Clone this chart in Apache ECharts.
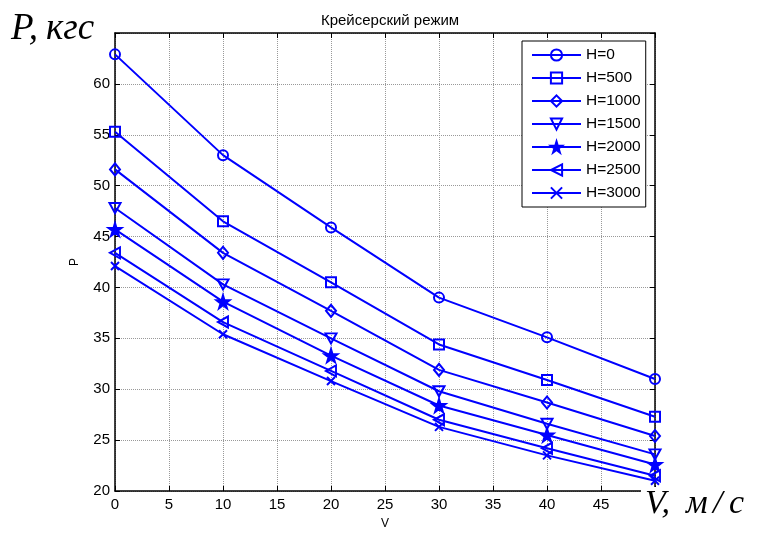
<!DOCTYPE html>
<html><head><meta charset="utf-8">
<script src="https://cdn.jsdelivr.net/npm/echarts@6/dist/echarts.min.js"></script>
<style>html,body{margin:0;padding:0;background:#fff}#c{width:757px;height:535px}</style>
</head><body><div id="c"></div>
<script>
const V = [0, 10, 20, 30, 40, 50];
const H0 = [62.9, 53.0, 45.9, 39.0, 35.1, 31.0];
const H500 = [55.3, 46.5, 40.5, 34.4, 30.9, 27.3];
const H1000 = [51.6, 43.4, 37.7, 31.9, 28.7, 25.4];
const H1500 = [47.8, 40.3, 35.0, 29.8, 26.6, 23.6];
const H2000 = [45.7, 38.6, 33.3, 28.4, 25.5, 22.6];
const H2500 = [43.4, 36.6, 31.8, 27.0, 24.2, 21.5];
const H3000 = [42.1, 35.4, 30.8, 26.3, 23.5, 21.0];
const names = ['H=0', 'H=500', 'H=1000', 'H=1500', 'H=2000', 'H=2500', 'H=3000'];
const values = [H0, H500, H1000, H1500, H2000, H2500, H3000];

const BLUE = '#0000ff';
const FONT = 'Liberation Sans, Arial, sans-serif';
const SERIF = 'italic 34px "Liberation Serif", "Times New Roman", serif';
const SERIF_P = 'italic 37px "Liberation Serif", "Times New Roman", serif';
const symbols = [
  {s: 'circle', size: 10},
  {s: 'rect', size: 10},
  {s: 'diamond', size: [10, 12]},
  {s: 'path://M0,0L10,0L5,9Z', size: [11, 10]},
  {s: 'path://M50,0L61,35L98,35L68,57L79,91L50,70L21,91L32,57L2,35L39,35Z', size: 13},
  {s: 'path://M9,0L9,10L0,5Z', size: [10, 11]},
  {s: 'path://M0,0L10,10M10,0L0,10', size: 8}
];

const series = names.map((n, i) => ({
  name: n,
  type: 'line',
  xAxisIndex: 0, yAxisIndex: 0,
  data: V.map((v, j) => [v, values[i][j]]),
  symbol: symbols[i].s,
  symbolSize: symbols[i].size,
  showAllSymbol: true,
  lineStyle: {color: BLUE, width: 2},
  itemStyle: {color: i === 4 ? BLUE : 'rgba(255,255,255,0)', borderColor: BLUE, borderWidth: 2},
  emphasis: {disabled: true},
  animation: false
}));

const chart = echarts.init(document.getElementById('c'), null, {renderer: 'canvas'});
chart.setOption({
  backgroundColor: '#fff',
  animation: false,
  title: {
    text: 'Крейсерский режим', left: 385, top: 8, textAlign: 'center',
    textStyle: {fontFamily: FONT, fontSize: 15, fontWeight: 'normal', color: '#000'}
  },
  grid: {left: 115, right: 102, top: 33, bottom: 41, containLabel: false},
  legend: {
    orient: 'vertical', left: 522, top: 41,
    padding: [6, 5, 6, 9],
    backgroundColor: '#fff', borderColor: '#000', borderWidth: 1,
    itemWidth: 49, itemHeight: 14, itemGap: 7,
    textStyle: {fontFamily: FONT, fontSize: 15.5, color: '#000', lineHeight: 15},
    data: names
  },
  xAxis: [{
    type: 'value', min: 0, max: 50, interval: 5, position: 'bottom',
    name: 'V', nameLocation: 'middle', nameGap: 27,
    nameTextStyle: {fontFamily: FONT, fontSize: 12, color: '#000'},
    axisLine: {show: true, onZero: false, lineStyle: {color: '#000', width: 1.5}},
    axisTick: {show: true, inside: true, length: 5, lineStyle: {color: '#000'}},
    axisLabel: {fontFamily: FONT, fontSize: 15, color: '#000', margin: 6},
    splitLine: {show: true, lineStyle: {color: '#999', type: 'dotted', width: 1}}
  }, {
    type: 'value', min: 0, max: 50, interval: 5, position: 'top',
    axisLine: {show: true, onZero: false, lineStyle: {color: '#000', width: 1.5}},
    axisTick: {show: true, inside: true, length: 5, lineStyle: {color: '#000'}},
    axisLabel: {show: false}, splitLine: {show: false}
  }],
  yAxis: [{
    type: 'value', min: 20, max: 65, interval: 5, position: 'left',
    name: 'P', nameLocation: 'middle', nameGap: 34, nameRotate: 90,
    nameTextStyle: {fontFamily: FONT, fontSize: 12, color: '#000'},
    axisLine: {show: true, onZero: false, lineStyle: {color: '#000', width: 1.5}},
    axisTick: {show: true, inside: true, length: 5, lineStyle: {color: '#000'}},
    axisLabel: {fontFamily: FONT, fontSize: 15, color: '#000', margin: 5,
      formatter: v => (v === 65 ? '' : String(v))},
    splitLine: {show: true, lineStyle: {color: '#999', type: 'dotted', width: 1}}
  }, {
    type: 'value', min: 20, max: 65, interval: 5, position: 'right',
    axisLine: {show: true, onZero: false, lineStyle: {color: '#000', width: 1.5}},
    axisTick: {show: true, inside: true, length: 5, lineStyle: {color: '#000'}},
    axisLabel: {show: false}, splitLine: {show: false}
  }],
  graphic: [
    {type: 'text', left: 11, top: 11, z: 100, style: {text: 'P,', fill: '#000', font: SERIF_P}},
    {type: 'text', left: 46, top: 11, z: 100, style: {text: 'кгс', fill: '#000', font: SERIF_P}},
    {type: 'rect', shape: {x: 641, y: 487, width: 120, height: 50}, z: 99, style: {fill: '#fff'}},
    {type: 'text', left: 645, top: 487, z: 100, style: {text: 'V,', fill: '#000', font: SERIF}},
    {type: 'text', left: 686, top: 487, z: 100, style: {text: 'м', fill: '#000', font: SERIF}},
    {type: 'text', left: 713, top: 487, z: 100, style: {text: '/', fill: '#000', font: SERIF}},
    {type: 'text', left: 729, top: 487, z: 100, style: {text: 'с', fill: '#000', font: SERIF}}
  ],
  series: series
});
</script></body></html>
